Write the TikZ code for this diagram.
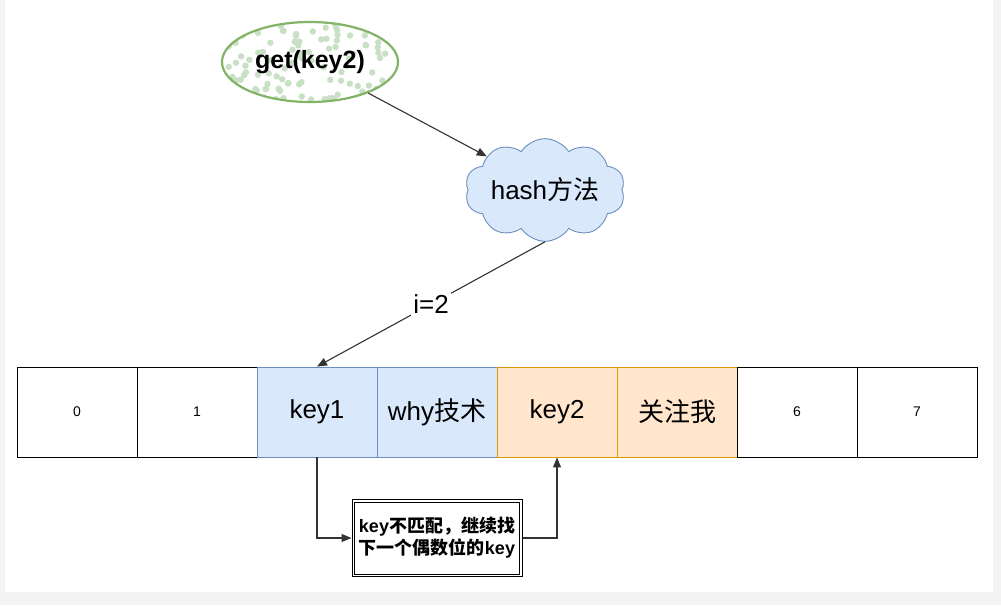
\documentclass[tikz,border=0pt]{standalone}
\usepackage{fontspec}
\setmainfont{Liberation Sans}
\newfontfamily\cjk{Noto Sans CJK SC}
\usetikzlibrary{shapes.geometric,shapes.symbols,arrows.meta}
\definecolor{bluefill}{HTML}{DAE8FC}
\definecolor{bluedraw}{HTML}{6C8EBF}
\definecolor{orangefill}{HTML}{FFE6CC}
\definecolor{orangedraw}{HTML}{D79B00}
\definecolor{greenfill}{HTML}{D5E8D4}
\definecolor{greendraw}{HTML}{82B366}
\definecolor{greendot}{HTML}{C8E0C4}
\definecolor{pagegray}{HTML}{F4F4F4}
\definecolor{linegray}{HTML}{333333}
\tikzset{
  cell/.style={draw=black, fill=white, minimum width=120pt, minimum height=90pt, inner sep=0pt, line width=0.9pt, font=\fontsize{14}{16}\selectfont},
  bluecell/.style={cell, draw=bluedraw, fill=bluefill, font=\fontsize{26}{30}\selectfont},
  orangecell/.style={cell, draw=orangedraw, fill=orangefill, font=\fontsize{26}{30}\selectfont},
  conn/.style={draw=linegray, line width=1.1pt, -{Triangle[length=10pt,width=8pt]}},
}
\begin{document}
\begin{tikzpicture}[x=1pt,y=-1pt]
\fill[pagegray] (0,0) rectangle (1001,605);
\fill[white] (5,0) rectangle (993,592);
\useasboundingbox (0,0) rectangle (1001,605);

% ellipse with dot fill
\begin{scope}
  \clip (310,62) ellipse [x radius=88, y radius=40];
  \fill[white] (310,62) ellipse [x radius=88, y radius=40];
  \pgfmathsetseed{7}
  \foreach \i in {1,...,120}{
    \pgfmathsetmacro{\px}{222+rnd*176}
    \pgfmathsetmacro{\py}{22+rnd*80}
    \fill[greendot] (\px,\py) circle (3.2);
  }
\end{scope}
\node[ellipse, draw=greendraw, line width=2.2pt, minimum width=176pt, minimum height=80pt, font=\bfseries\fontsize{25}{30}\selectfont] (get) at (310,62) {get(key2)};

% cloud
\node[cloud, cloud puffs=10, cloud puff arc=115, aspect=1.9, draw=bluedraw, fill=bluefill, line width=0.9pt, minimum width=160pt, minimum height=96pt, inner sep=0pt, font=\fontsize{26}{30}\selectfont] (hash) at (545,190) {hash{\cjk 方法}};

% array
\node[cell] (c0) at (77,412) {0};
\node[cell] (c1) at (197,412) {1};
\node[bluecell] (c2) at (317,412) {key1};
\node[bluecell] (c3) at (437,412) {why{\cjk 技术}};
\node[orangecell] (c4) at (557,412) {key2};
\node[orangecell] (c5) at (677,412) {{\cjk 关注我}};
\node[cell] (c6) at (797,412) {6};
\node[cell] (c7) at (917,412) {7};

% bottom box
\node[draw=black, line width=1pt, fill=white, minimum width=170pt, minimum height=77pt, inner sep=0pt] (note) at (437,538) {};
\draw[black, line width=1pt] ([shift={(3,3)}]note.north west) rectangle ([shift={(-3,-3)}]note.south east);
\node[align=center, font=\bfseries\fontsize{18}{22}\selectfont] at (note.center) {key{\cjk 不匹配，继续找}\\{\cjk 下一个偶数位的}key};

% connectors
\draw[conn] (get) -- (hash.150);
\draw[conn] (hash.south) -- node[fill=white, inner sep=2pt, font=\fontsize{26}{30}\selectfont] {i=2} (c2.north);
\draw[conn] (c2.south) |- (note.west);
\draw[conn] (note.east) -| (c4.south);
\end{tikzpicture}
\end{document}
